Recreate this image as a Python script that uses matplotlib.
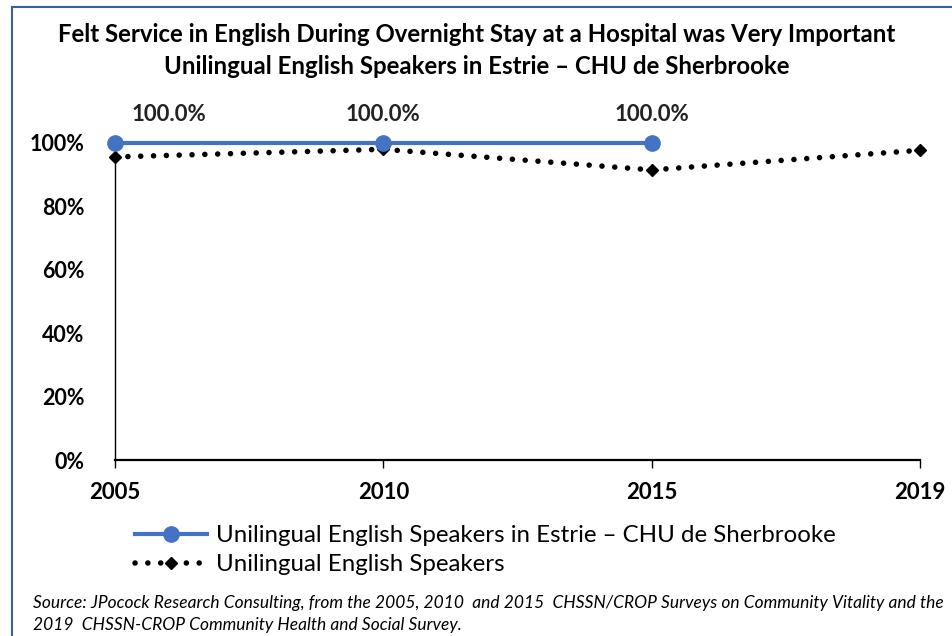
import numpy as np
import matplotlib.pyplot as plt
from matplotlib.lines import Line2D

plt.rcParams['font.family'] = ['Lato', 'DejaVu Sans']

years = ['2005', '2010', '2015', '2019']
estrie = [1.0, 1.0, 1.0]          # 2005-2015 only
all_speakers = [0.956, 0.98, 0.915, 0.977]
estrie_labels = ['100.0%', '100.0%', '100.0%']

fig = plt.figure(figsize=(9.53, 6.36), dpi=100)
ax = fig.add_axes([0.1207, 0.2767, 0.8447, 0.4985])

x = np.arange(len(years))

ax.plot(x, all_speakers, color='black', lw=4, linestyle=(0, (0.01, 2.3)),
        dash_capstyle='round', marker='D', markersize=6, clip_on=False, zorder=3,
        label='Unilingual English Speakers')
ax.plot(x[:len(estrie)], estrie, color='#4472C4', lw=3, marker='o', markersize=11,
        clip_on=False, zorder=4,
        label='Unilingual English Speakers in Estrie \u2013 CHU de Sherbrooke')

# value labels above the Estrie points, first one nudged right
offsets = [0.2, 0, 0]
for xi, v, lab, dx in zip(x, estrie, estrie_labels, offsets):
    ax.text(xi + dx, v + 0.09, lab, ha='center', va='center',
            fontsize=16, fontweight='bold', color='#222222')

ax.set_xlim(0, 3)
ax.set_ylim(0, 1)
ax.set_xticks(x)
ax.set_xticklabels(years, fontsize=16, fontweight='bold')
ax.set_yticks(np.arange(0, 1.01, 0.2))
ax.set_yticklabels([f'{int(round(t * 100))}%' for t in np.arange(0, 1.01, 0.2)],
                   fontsize=15.5, fontweight='bold')
ax.tick_params(axis='y', length=0, pad=22)
ax.tick_params(axis='x', length=6, width=1, direction='out', pad=10)

for s in ['top', 'right']:
    ax.spines[s].set_visible(False)
ax.spines['left'].set_linewidth(1)
ax.spines['bottom'].set_linewidth(1.6)

fig.text(0.5, 0.945, 'Felt Service in English During Overnight Stay at a Hospital was Very Important',
         ha='center', va='center', fontsize=17.3, fontweight='bold')
fig.text(0.5, 0.895, 'Unilingual English Speakers in Estrie \u2013 CHU de Sherbrooke',
         ha='center', va='center', fontsize=17.3, fontweight='bold')

h, l = ax.get_legend_handles_labels()
fig.legend(h[::-1], l[::-1], loc='upper left', bbox_to_anchor=(0.132, 0.189),
           frameon=False, fontsize=17.3, handlelength=3.0, handletextpad=0.35,
           labelspacing=0.32, borderaxespad=0)

fig.text(0.035, 0.052, 'Source: JPocock Research Consulting, from the 2005, 2010  and 2015  CHSSN/CROP Surveys on Community Vitality and the',
         fontsize=12.5, style='italic', va='center')
fig.text(0.035, 0.017, '2019  CHSSN-CROP Community Health and Social Survey.',
         fontsize=12.5, style='italic', va='center')

# frame lines along top and left edge
frame_col = '#3C5FA0'
fig.add_artist(Line2D([12 / 953, 1], [1 - 7 / 636, 1 - 7 / 636], color=frame_col, lw=1.5,
                      transform=fig.transFigure))
fig.add_artist(Line2D([12 / 953, 12 / 953], [0, 1 - 7 / 636], color=frame_col, lw=1.5,
                      transform=fig.transFigure))

fig.savefig('out.png', dpi=100)
